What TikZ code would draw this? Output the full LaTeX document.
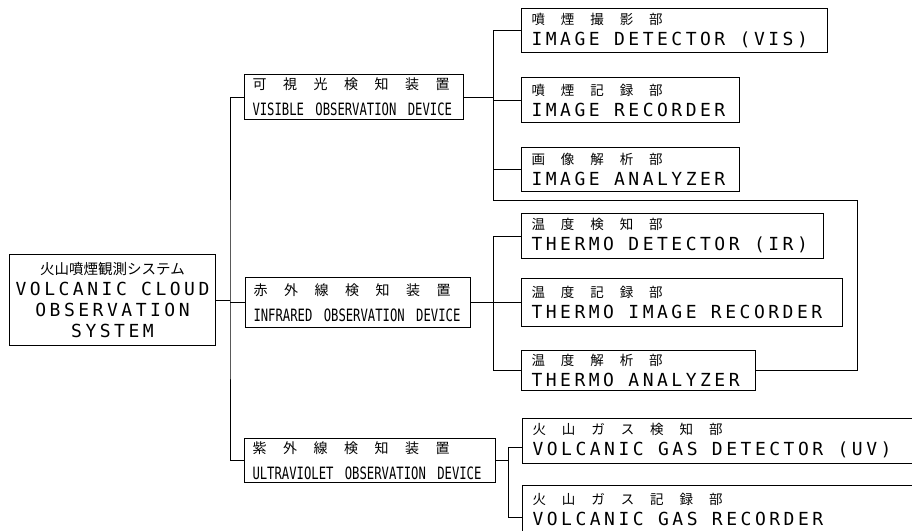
\documentclass[tikz,border=0pt]{standalone}
\usepackage{fontspec}
\setmainfont{DejaVu Sans}
\newfontfamily\plotfont[LetterSpace=19.5]{DejaVu Sans Mono}
\newfontfamily\condfont[FakeStretch=0.72]{DejaVu Sans Mono}
\newfontfamily\jpfont{Noto Sans CJK JP}
\newfontfamily\jpsub[LetterSpace=118]{Noto Sans CJK JP}
\newfontfamily\jpdev[LetterSpace=118]{Noto Sans CJK JP}
\usetikzlibrary{calc}
\newcommand{\subjp}[1]{{\jpsub\fontsize{13.5}{21}\selectfont #1}}
\newcommand{\devjp}[1]{{\jpdev\fontsize{14}{26}\selectfont #1}}
\newcommand{\cell}{\hspace{14.35pt}}

\begin{document}
\begin{tikzpicture}[x=1pt, y=-1pt, line width=1pt,
    every node/.style={inner sep=0pt},
    sysbox/.style={draw, anchor=north west, align=center, text width=206pt,
      minimum height=91pt, font=\plotfont\fontsize{18}{21}\selectfont},
    devbox/.style={draw, anchor=north west, align=left, inner xsep=8pt,
      minimum height=45pt, font=\condfont\fontsize{17}{26}\selectfont},
    partbox/.style={draw, anchor=north west, align=left, inner xsep=10pt,
      minimum height=45pt, font=\plotfont\fontsize{18}{21}\selectfont}]
  \useasboundingbox (0,0) rectangle (912,530);
  \fill[white] (0,0) rectangle (912,530);
  \clip (0,0) rectangle (912,530);

  % system
  \node[sysbox] (sys) at (9,254)
    {{\jpfont\fontsize{14.5}{21}\selectfont 火山噴煙観測システム}\\
     VOLCANIC\cell CLOUD\\OBSERVATION\\SYSTEM};

  % observation devices
  \node[devbox, text width=203pt] (vis) at (244,74)
    {\devjp{可視光検知装置}\\VISIBLE~~OBSERVATION~~DEVICE};
  \node[devbox, text width=209pt, minimum height=50pt] (ir) at (245,277)
    {\devjp{赤外線検知装置}\\INFRARED~~OBSERVATION~~DEVICE};
  \node[devbox, text width=235pt, minimum height=44pt] (uv) at (244,438)
    {\devjp{紫外線検知装置}\\ULTRAVIOLET~~OBSERVATION~~DEVICE};

  % parts
  \node[partbox, text width=286pt, minimum height=44pt] (idet) at (521,8)
    {\subjp{噴煙撮影部}\\IMAGE\cell DETECTOR\cell(VIS)};
  \node[partbox, text width=198pt] (irec) at (521,77)
    {\subjp{噴煙記録部}\\IMAGE\cell RECORDER};
  \node[partbox, text width=198pt, minimum height=44pt] (iana) at (521,147)
    {\subjp{画像解析部}\\IMAGE\cell ANALYZER};
  \node[partbox, text width=282pt] (tdet) at (521,213)
    {\subjp{温度検知部}\\THERMO\cell DETECTOR\cell(IR)};
  \node[partbox, text width=301pt, minimum height=48pt] (trec) at (521,278)
    {\subjp{温度記録部}\\THERMO\cell IMAGE\cell RECORDER};
  \node[partbox, text width=214pt, minimum height=40pt] (tana) at (521,350)
    {\subjp{温度解析部}\\THERMO\cell ANALYZER};
  \node[partbox, text width=400pt] (gdet) at (522,418)
    {\subjp{火山ガス検知部}\\VOLCANIC\cell GAS\cell DETECTOR\cell(UV)};
  \node[partbox, text width=400pt, minimum height=47pt] (grec) at (522,485)
    {\subjp{火山ガス記録部}\\VOLCANIC\cell GAS\cell RECORDER};

  \coordinate (trunk) at (230,0);
  \coordinate (vbr) at (493,0);
  \coordinate (ubr) at (508,0);
  \coordinate (loop) at (857,200);

  % system -> devices
  \draw (sys.east) -- (trunk |- sys.east);
  \draw (vis.west) -| (trunk |- sys.east) |- (uv.west);
  \draw (ir.west) -- (trunk |- ir.west);

  % visible
  \draw (vis.east) -- (vbr |- vis.east);
  \draw (idet.west) -| (vbr |- iana.west) -- (iana.west);
  \draw (irec.west) -- (vbr |- irec.west);
  \draw (vbr |- iana.west) -- (vbr |- loop) -- (loop) |- (tana.east);

  % infrared
  \draw (tdet.west) -| (vbr |- tana.west) -- (tana.west);
  \draw (ir.east) -- (trec.west);

  % ultraviolet
  \draw (uv.east) -- (ubr |- uv.east);
  \draw ($(gdet.west)+(0,6)$) -| ($(grec.west -| ubr)+(0,8)$)
    -- ($(grec.west)+(0,8)$);
\end{tikzpicture}
\end{document}
